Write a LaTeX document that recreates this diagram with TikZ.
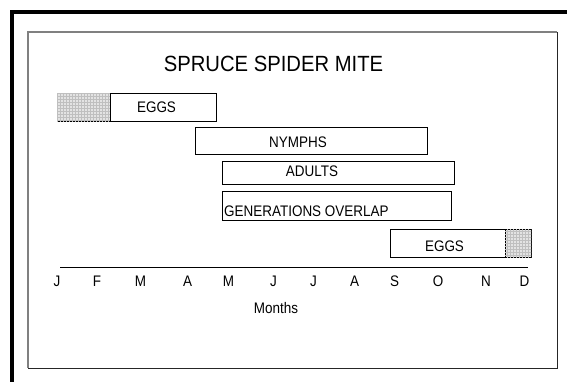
\documentclass[tikz,border=0pt]{standalone}
\usepackage{fontspec}
\setmainfont[FakeStretch=0.88]{Liberation Sans}
\newfontfamily\titlefont[FakeStretch=0.92]{Liberation Sans}
\usepackage{tikz}
\usetikzlibrary{patterns,positioning}

\begin{document}
\begin{tikzpicture}[
  x=1pt, y=-1pt,
  bar/.style={draw, line width=0.8pt, fill=white, minimum height=28pt, anchor=north west, inner sep=0pt, outer sep=0pt},
  hatch/.style={bar, fill=gray!22, postaction={pattern=grid, pattern color=gray!50}},
  lbl/.style={anchor=base, inner sep=0pt, font=\fontsize{15.3}{18}\selectfont},
  mon/.style={lbl}
]
\useasboundingbox (0,0) rectangle (567,381);
% frames
\draw[line width=4.5pt] (12,395) -- (12,12) -- (580,12);
\draw[gray, line width=1.2pt] (28,368) -- (28,32) -- (557,32);
\draw[black!85, line width=1pt] (557,32) -- (557,368) -- (28,368);
\node[anchor=base, inner sep=0pt, font=\titlefont\fontsize{22}{26}\selectfont] (title) at (273.5,71) {SPRUCE SPIDER MITE};
% bars
\node[hatch, minimum width=53pt] (eggsa) at (57,93) {};
\node[bar, minimum width=106pt] (eggsb) at (110,93) {};
\node[bar, minimum width=232pt, minimum height=27pt] (nymphs) at (195,127) {};
\node[bar, minimum width=232pt, minimum height=23pt] (adults) at (222,161) {};
\node[bar, minimum width=229pt, minimum height=29pt] (overlap) at (222,191) {};
\node[bar, minimum width=115pt] (eggsc) at (390,229) {};
\node[hatch, minimum width=26pt] (eggsd) at (505,229) {};
\node[lbl] (teggsa) at (156.5,112.5) {EGGS};
\node[lbl] (tnymphs) at (298,147) {NYMPHS};
\node[lbl] (tadults) at (312,176.5) {ADULTS};
\node[lbl, anchor=base west] (toverlap) at (224,216.5) {GENERATIONS OVERLAP};
\node[lbl] (teggsc) at (444.5,251) {EGGS};
% months
\draw[line width=0.8pt] (60,267) -- (528,267);
\foreach \m/\x [count=\i] in {J/57, F/97, M/140.5, A/187.5, M/228.5, J/273.5, J/313.5, A/354.5, S/394.5, O/438, N/486, D/524.5}
  \node[mon] (m\i) at (\x,286) {\m};
\node[lbl] (months) at (276,313) {Months};
\end{tikzpicture}
\end{document}
